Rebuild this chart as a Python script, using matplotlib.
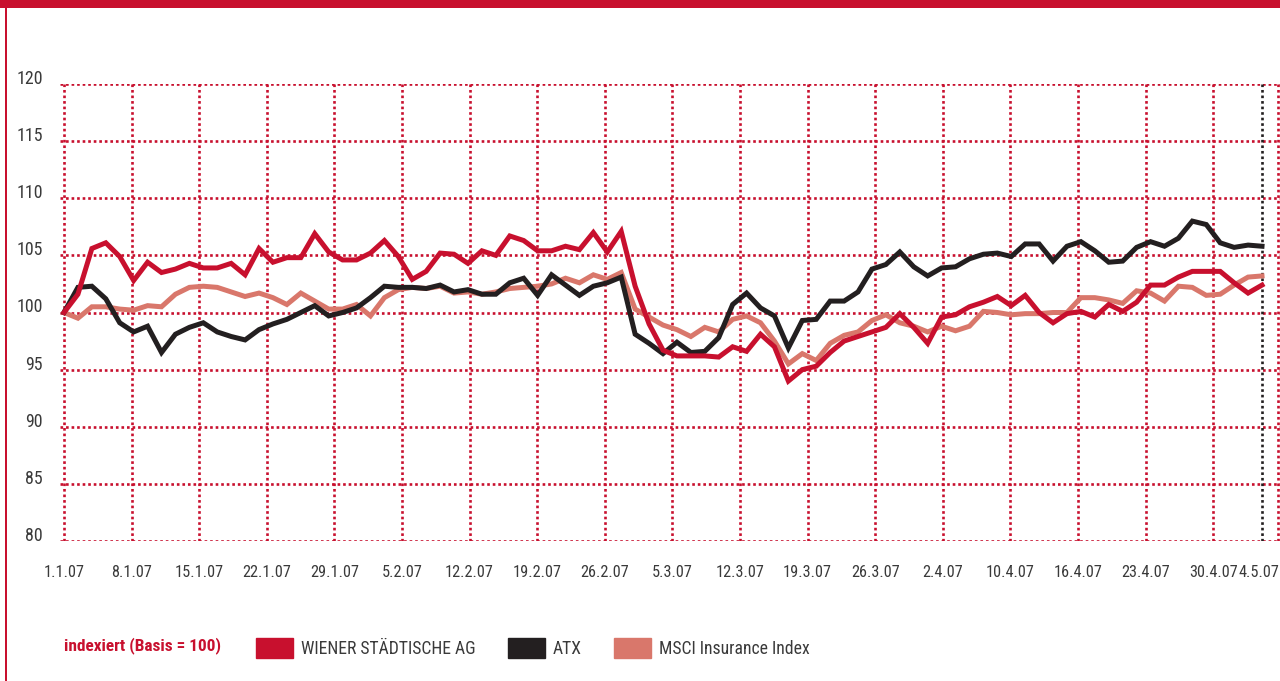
import matplotlib
matplotlib.use("Agg")
import matplotlib.pyplot as plt
from matplotlib import font_manager as fm
from matplotlib.patches import Patch
from matplotlib.transforms import ScaledTranslation
import numpy as np

# index values, one per trading day, 1.1.07 .. 4.5.07
wiener = [100.0, 101.6, 105.6, 106.1, 104.9, 102.8, 104.4, 103.5, 103.8, 104.3,
          103.9, 103.9, 104.3, 103.3, 105.6, 104.4, 104.8, 104.8, 106.9, 105.3,
          104.6, 104.6, 105.2, 106.3, 104.9, 102.9, 103.6, 105.2, 105.1, 104.3,
          105.4, 105.0, 106.7, 106.3, 105.4, 105.4, 105.8, 105.5, 107.0, 105.3,
          107.1, 102.3, 99.0, 96.7, 96.2, 96.2, 96.2, 96.1, 97.0, 96.6,
          98.1, 97.0, 94.0, 95.0, 95.3, 96.5, 97.5, 97.9, 98.3, 98.7,
          99.9, 98.7, 97.3, 99.6, 99.8, 100.5, 100.9, 101.4, 100.6, 101.5,
          100.0, 99.1, 99.9, 100.1, 99.6, 100.7, 100.1, 100.9, 102.4, 102.4,
          103.1, 103.6, 103.6, 103.6, 102.6, 101.7, 102.4]

atx = [100.0, 102.2, 102.3, 101.2, 99.1, 98.3, 98.8, 96.5, 98.1, 98.7,
       99.1, 98.3, 97.9, 97.6, 98.5, 99.0, 99.4, 100.0, 100.6, 99.7,
       100.0, 100.4, 101.3, 102.3, 102.2, 102.2, 102.1, 102.4, 101.8, 102.0,
       101.6, 101.6, 102.6, 103.0, 101.5, 103.3, 102.4, 101.5, 102.3, 102.6,
       103.1, 98.1, 97.3, 96.4, 97.4, 96.5, 96.6, 97.8, 100.7, 101.7,
       100.4, 99.7, 96.9, 99.3, 99.4, 101.0, 101.0, 101.8, 103.8, 104.2,
       105.3, 104.0, 103.2, 103.9, 104.0, 104.7, 105.1, 105.2, 104.9, 106.0,
       106.0, 104.5, 105.8, 106.2, 105.4, 104.4, 104.5, 105.7, 106.2, 105.8,
       106.5, 108.0, 107.7, 106.1, 105.7, 105.9, 105.8]

msci = [100.0, 99.5, 100.5, 100.5, 100.3, 100.2, 100.6, 100.5, 101.6, 102.2,
        102.3, 102.2, 101.8, 101.4, 101.7, 101.3, 100.7, 101.7, 101.0, 100.3,
        100.3, 100.7, 99.7, 101.3, 102.0, 102.2, 102.1, 102.3, 101.7, 101.8,
        101.6, 101.8, 102.1, 102.2, 102.3, 102.5, 103.0, 102.6, 103.3, 102.9,
        103.5, 100.3, 99.6, 98.9, 98.5, 97.9, 98.7, 98.3, 99.4, 99.7,
        99.1, 97.5, 95.5, 96.4, 95.8, 97.3, 98.0, 98.3, 99.3, 99.8,
        99.1, 98.8, 98.3, 98.8, 98.4, 98.8, 100.1, 100.0, 99.8, 99.9,
        99.9, 100.0, 100.0, 101.3, 101.3, 101.1, 100.8, 101.9, 101.7, 101.0,
        102.3, 102.2, 101.5, 101.6, 102.4, 103.1, 103.2]

date_labels = ["1.1.07", "8.1.07", "15.1.07", "22.1.07", "29.1.07", "5.2.07",
               "12.2.07", "19.2.07", "26.2.07", "5.3.07", "12.3.07", "19.3.07",
               "26.3.07", "2.4.07", "10.4.07", "16.4.07", "23.4.07", "30.4.07",
               "4.5.07"]
y_ticks = [80, 85, 90, 95, 100, 105, 110, 115, 120]

series_names = ["WIENER STÄDTISCHE AG", "ATX", "MSCI Insurance Index"]
basis_text = "indexiert (Basis = 100)"

red = "#c8102e"
black = "#231f20"
salmon = "#d9776b"
grey = "#3a3a3a"

# the original uses a condensed face; take the narrowest one that is installed
installed = {f.name for f in fm.fontManager.ttflist}
for name in ["Liberation Sans Narrow", "Roboto Condensed", "Open Sans Condensed",
             "DejaVu Sans Condensed", "Roboto", "DejaVu Sans"]:
    if name in installed:
        break
plt.rcParams["font.family"] = [name, "DejaVu Sans"]

W, H = 1280, 681
fig = plt.figure(figsize=(W / 100, H / 100), dpi=100)
renderer = fig.canvas.get_renderer()


def fit_size(text, width_px, weight="normal", cap=15):
    t = fig.text(0, 0, text, fontsize=10, fontweight=weight)
    w = t.get_window_extent(renderer).width
    t.remove()
    return min(cap, 10 * width_px / w)


tick_fs = fit_size("22.1.07", 48)
ytick_fs = fit_size("120", 26)
basis_fs = fit_size(basis_text, 158, "bold")
legend_fs = fit_size(series_names[0], 175)

ax = fig.add_axes([60 / W, 1 - 541 / H, 1220 / W, (541 - 84) / H])

x = np.arange(len(wiener))
px_per_day = (1262 - 64) / (len(wiener) - 1)
week = 67.6 / px_per_day
tick_pos = list(np.arange(len(date_labels) - 1) * week) + [x[-1]]

ax.set_xlim((60 - 64) / px_per_day, (1280 - 64) / px_per_day)
ax.set_ylim(80, 120)

dots = (0, (1, 1.1))
for v in y_ticks:
    ax.axhline(v, color=red, lw=1.9, ls=dots, zorder=1)
for p in tick_pos[:-1]:
    ax.axvline(p, color=red, lw=1.9, ls=dots, zorder=1)
ax.axvline(tick_pos[-1], color=black, lw=1.9, ls=dots, zorder=1)
ax.axvline((1278 - 64) / px_per_day, color=red, lw=1.9, ls=dots, zorder=1)

for vals, col in [(msci, salmon), (atx, black), (wiener, red)]:
    ax.plot(x, vals, color=col, lw=3.6, solid_joinstyle="miter", zorder=3)

for s in ax.spines.values():
    s.set_visible(False)
ax.set_xticks(tick_pos, date_labels)
ax.set_yticks(y_ticks, [str(v) for v in y_ticks])
ax.tick_params(length=0, colors=grey)
ax.tick_params(axis="x", pad=17, labelsize=tick_fs)
ax.tick_params(axis="y", pad=12.5, labelsize=ytick_fs)
for t in ax.get_yticklabels():
    t.set_va("baseline")
# nudge the last date a little to the left so it stays inside the picture
last = ax.get_xticklabels()[-1]
last.set_transform(last.get_transform() + ScaledTranslation(-0.03, 0, fig.dpi_scale_trans))

# frame: red band on top and thin red line on the left
fig.add_artist(plt.Rectangle((0, 1 - 8 / H), 1, 8 / H, transform=fig.transFigure,
                             color=red, lw=0))
fig.add_artist(plt.Rectangle((4.5 / W, 0), 2.5 / W, 1, transform=fig.transFigure,
                             color=red, lw=0))

fig.text(64 / W, 1 - 646 / H, basis_text, color=red, fontsize=basis_fs,
         fontweight="bold", va="center", ha="left")

em = legend_fs * 100 / 72
handles = [Patch(color=c, label=n) for c, n in zip([red, black, salmon], series_names)]
leg = fig.legend(handles=handles, ncol=3, loc="center left",
                 bbox_to_anchor=(256 / W, 1 - 648 / H), frameon=False,
                 fontsize=legend_fs, handlelength=37 / em, handleheight=24 / em,
                 handletextpad=8 / em, columnspacing=32 / em,
                 borderpad=0, borderaxespad=0)
for t in leg.get_texts():
    t.set_color(grey)

fig.savefig("out.png", dpi=100)
